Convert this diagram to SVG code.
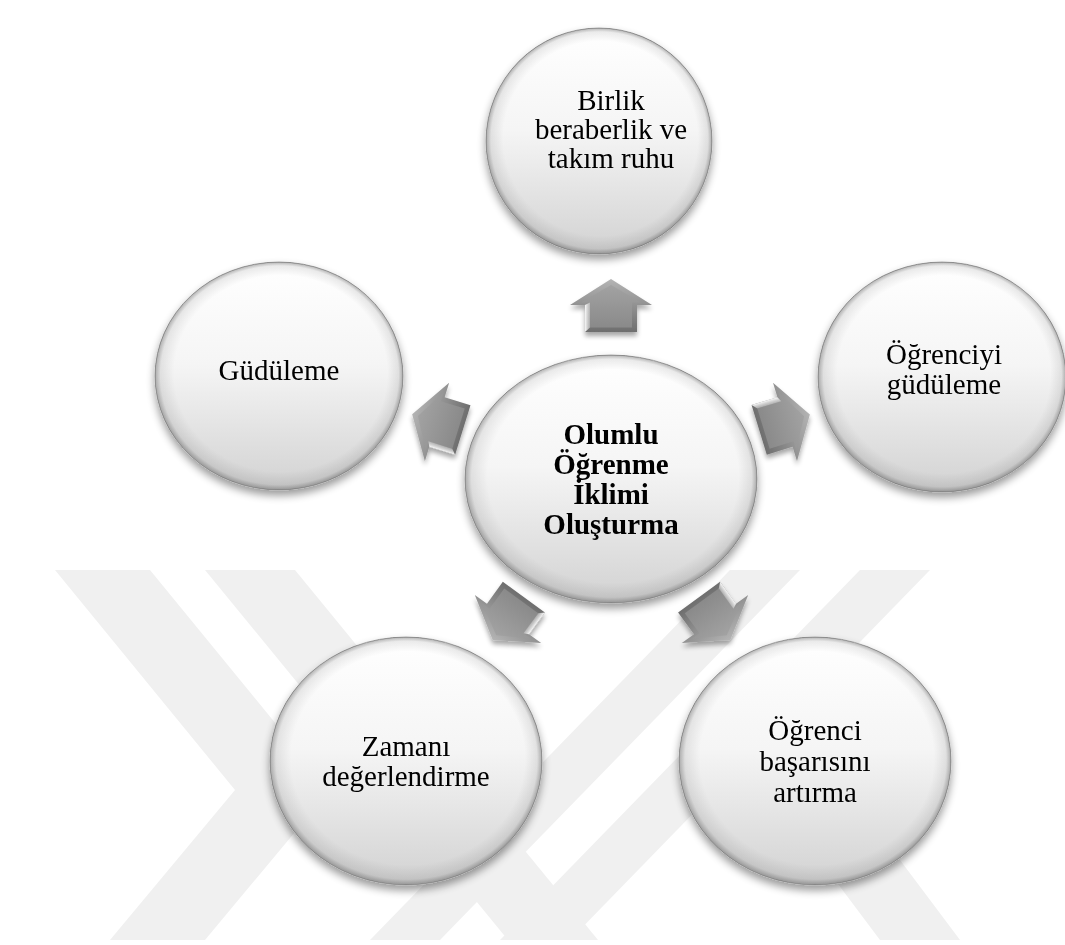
<svg xmlns="http://www.w3.org/2000/svg" width="1065" height="945" viewBox="0 0 1065 945">
<style>
.t{font-family:"Liberation Serif","Times New Roman",serif;font-size:29px;text-anchor:middle;fill:#000}
.tb{font-family:"Liberation Serif","Times New Roman",serif;font-size:29px;font-weight:bold;text-anchor:middle;fill:#000}
.disc{fill:url(#cg);stroke:#a8a8a8;stroke-width:1}
.rim{fill:url(#rim)}
.wm{fill:#f0f0f0}
.ab{fill:url(#ag)}
.af{fill:url(#af)}
.ah{fill:url(#ah)}
</style>
<defs>
<linearGradient id="cg" x1="0" y1="0" x2="0" y2="1">
<stop offset="0" stop-color="#ffffff"/>
<stop offset="0.45" stop-color="#f5f5f5"/>
<stop offset="1" stop-color="#d2d2d2"/>
</linearGradient>
<radialGradient id="rim" cx="0.5" cy="0.5" r="0.5" fx="0.55" fy="0.42">
<stop offset="0.86" stop-color="#000" stop-opacity="0"/>
<stop offset="0.96" stop-color="#000" stop-opacity="0.08"/>
<stop offset="1" stop-color="#000" stop-opacity="0.3"/>
</radialGradient>
<linearGradient id="ag" x1="0" y1="0" x2="0" y2="1">
<stop offset="0" stop-color="#b4b4b4"/>
<stop offset="1" stop-color="#6e6e6e"/>
</linearGradient>
<linearGradient id="af" x1="0" y1="0" x2="0" y2="1">
<stop offset="0" stop-color="#a2a2a2"/>
<stop offset="1" stop-color="#8a8a8a"/>
</linearGradient>
<linearGradient id="ah" x1="0" y1="0" x2="1" y2="0">
<stop offset="0" stop-color="#ffffff" stop-opacity="0.95"/>
<stop offset="1" stop-color="#cfcfcf" stop-opacity="0.6"/>
</linearGradient>
<filter id="sh" x="-20%" y="-20%" width="140%" height="150%">
<feGaussianBlur in="SourceAlpha" stdDeviation="4"/>
<feOffset dy="5"/>
<feComponentTransfer><feFuncA type="linear" slope="0.4"/></feComponentTransfer>
<feMerge><feMergeNode/><feMergeNode in="SourceGraphic"/></feMerge>
</filter>
<filter id="ash" x="-40%" y="-40%" width="180%" height="180%">
<feGaussianBlur in="SourceAlpha" stdDeviation="2.5"/>
<feOffset dy="4"/>
<feComponentTransfer><feFuncA type="linear" slope="0.35"/></feComponentTransfer>
<feMerge><feMergeNode/><feMergeNode in="SourceGraphic"/></feMerge>
</filter>
<g id="arrow">
<polygon class="ab" points="0,-26 41,0 26,0 26,27 -26,27 -26,0 -41,0"/>
<polygon class="af" points="0,-20 30,-2.5 21,-2.5 21,22.5 -21,22.5 -21,-2.5 -30,-2.5"/>
<polygon class="ah" points="-26,0 -21,-2.5 -21,22.5 -26,27"/>
</g>
</defs>
<rect width="1065" height="945" fill="#ffffff"/>
<g id="watermark">
<polygon class="wm" points="55,570 150,570 330,790 205,940 110,940 235,790"/>
<polygon class="wm" points="205,570 295,570 598,940 508,940"/>
<polygon class="wm" points="730,570 800,570 440,940 370,940"/>
<polygon class="wm" points="860,570 930,570 570,940 500,940"/>
<polygon class="wm" points="760,780 810,740 960,940 880,940"/>
</g>
<g id="node-top" filter="url(#sh)">
<ellipse class="disc" cx="599" cy="141" rx="113" ry="113"/>
<ellipse class="rim" cx="599" cy="141" rx="113" ry="113"/>
<text class="t" x="611" y="110">Birlik</text>
<text class="t" x="611" y="139">beraberlik ve</text>
<text class="t" x="611" y="168">takım ruhu</text>
</g>
<g id="node-left" filter="url(#sh)">
<ellipse class="disc" cx="279" cy="376" rx="124" ry="114"/>
<ellipse class="rim" cx="279" cy="376" rx="124" ry="114"/>
<text class="t" x="279" y="380">Güdüleme</text>
</g>
<g id="node-right" filter="url(#sh)">
<ellipse class="disc" cx="942" cy="377" rx="124" ry="115"/>
<ellipse class="rim" cx="942" cy="377" rx="124" ry="115"/>
<text class="t" x="944" y="364">Öğrenciyi</text>
<text class="t" x="944" y="394">güdüleme</text>
</g>
<g id="node-bottom-left" filter="url(#sh)">
<ellipse class="disc" cx="406" cy="761" rx="136" ry="124"/>
<ellipse class="rim" cx="406" cy="761" rx="136" ry="124"/>
<text class="t" x="406" y="756">Zamanı</text>
<text class="t" x="406" y="786">değerlendirme</text>
</g>
<g id="node-bottom-right" filter="url(#sh)">
<ellipse class="disc" cx="815" cy="761" rx="136" ry="124"/>
<ellipse class="rim" cx="815" cy="761" rx="136" ry="124"/>
<text class="t" x="815" y="740">Öğrenci</text>
<text class="t" x="815" y="771">başarısını</text>
<text class="t" x="815" y="802">artırma</text>
</g>
<g id="node-center" filter="url(#sh)">
<ellipse class="disc" cx="611" cy="479" rx="146" ry="124"/>
<ellipse class="rim" cx="611" cy="479" rx="146" ry="124"/>
<text class="tb" x="611" y="444">Olumlu</text>
<text class="tb" x="611" y="474">Öğrenme</text>
<text class="tb" x="611" y="504">İklimi</text>
<text class="tb" x="611" y="534">Oluşturma</text>
</g>
<g id="connectors">
<g filter="url(#ash)"><use href="#arrow" transform="translate(611,305)"/></g>
<g filter="url(#ash)"><use href="#arrow" transform="translate(437,422) rotate(-72.8)"/></g>
<g filter="url(#ash)"><use href="#arrow" transform="translate(785,422) rotate(73)"/></g>
<g filter="url(#ash)"><use href="#arrow" transform="translate(508,619) rotate(-144)"/></g>
<g filter="url(#ash)"><use href="#arrow" transform="translate(715,619) rotate(144)"/></g>
</g>
</svg>
